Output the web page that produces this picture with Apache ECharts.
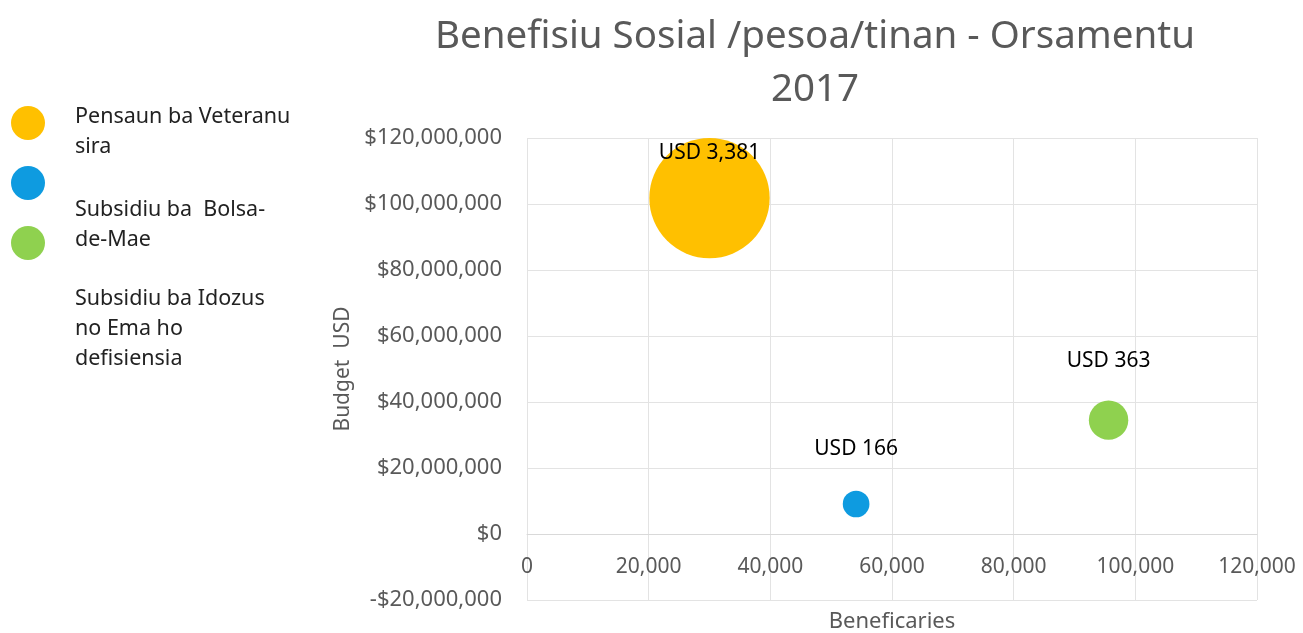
<!DOCTYPE html>
<html>
<head>
<meta charset="utf-8">
<script src="https://cdn.jsdelivr.net/npm/echarts@6/dist/echarts.min.js"></script>
<style>
  html, body { margin: 0; padding: 0; background: #fff; }
  #chart { width: 1303px; height: 633px; }
</style>
</head>
<body>
<div id="chart"></div>
<script>
  // series names (legend) and one bubble each: [beneficiaries, budget, USD per person]
  const seriesNames = ['Pensaun ba Veteranu sira', 'Subsidiu ba Bolsa-de-Mae', 'Subsidiu ba Idozus no Ema ho defisiensia']
  const legendTexts = ['Pensaun ba Veteranu\nsira', 'Subsidiu ba  Bolsa-\nde-Mae', 'Subsidiu ba Idozus\nno Ema ho\ndefisiensia']
  const colors = ['#FFC000', '#0E9BE0', '#8FD14F']
  const beneficiaries = [30000, 54100, 95600]
  const budget = [101800000, 9100000, 34500000]
  const perPerson = [3381, 166, 363]
  const labelOffsets = [-45, -55, -59]

  const font = '"Noto Sans", sans-serif'
  const grey = '#595959'

  const chart = echarts.init(document.getElementById('chart'))

  function money(v) {
    return (v < 0 ? '-$' : '$') + Math.abs(v).toLocaleString('en-US')
  }

  const series = seriesNames.map(function (name, i) {
    return {
      name: name,
      type: 'scatter',
      itemStyle: { color: colors[i], opacity: 1 },
      symbolSize: function (val) {
        return Math.sqrt(val[2]) * 2.07 // area ~ USD per person
      },
      label: {
        show: true,
        position: 'inside',
        offset: [0, labelOffsets[i]],
        color: '#000',
        fontFamily: font,
        fontSize: 21,
        formatter: function (p) {
          return 'USD ' + p.value[2].toLocaleString('en-US')
        }
      },
      data: [[beneficiaries[i], budget[i], perPerson[i]]]
    }
  })

  chart.setOption({
    backgroundColor: '#fff',
    animation: false,
    title: {
      text: 'Benefisiu Sosial /pesoa/tinan - Orsamentu\n2017',
      left: 810,
      textAlign: 'center',
      top: 6,
      textStyle: {
        color: grey,
        fontFamily: font,
        fontWeight: 'normal',
        fontSize: 38.5,
        lineHeight: 53
      }
    },
    legend: {
      orient: 'vertical',
      left: 6,
      top: 101,
      itemWidth: 34,
      itemHeight: 34,
      itemGap: 26,
      icon: 'circle',
      data: seriesNames,
      formatter: function () { return '' },
      selectedMode: false
    },
    graphic: legendTexts.map(function (t, i) {
      const tops = [102, 195, 284]
      return {
        type: 'text',
        left: 75,
        top: tops[i],
        style: {
          text: t,
          fill: '#222',
          font: '21.5px ' + font,
          lineHeight: 30
        }
      }
    }),
    grid: {
      left: 527,
      right: 46,
      top: 138,
      bottom: 33,
      outerBoundsMode: 'none'
    },
    xAxis: {
      type: 'value',
      min: 0,
      max: 120000,
      interval: 20000,
      offset: -66, // sits on the $0 line, like the original
      name: 'Beneficaries',
      nameLocation: 'middle',
      nameGap: 77,
      nameTextStyle: { color: grey, fontFamily: font, fontSize: 22 },
      axisLine: { onZero: false, lineStyle: { color: '#d9d9d9' } },
      axisTick: { show: false },
      axisLabel: {
        color: grey,
        fontFamily: font,
        fontSize: 21,
        margin: 23,
        formatter: function (v) { return v.toLocaleString('en-US') }
      },
      splitLine: { lineStyle: { color: '#e3e3e3' } }
    },
    yAxis: {
      type: 'value',
      min: -20000000,
      max: 120000000,
      interval: 20000000,
      name: 'Budget  USD',
      nameLocation: 'middle',
      nameGap: 167,
      nameTextStyle: { color: grey, fontFamily: font, fontSize: 21 },
      axisLine: { show: false },
      axisTick: { show: false },
      axisLabel: {
        color: grey,
        fontFamily: font,
        fontSize: 22,
        margin: 25,
        formatter: money
      },
      splitLine: { lineStyle: { color: '#e3e3e3' } }
    },
    series: series
  })
</script>
</body>
</html>
